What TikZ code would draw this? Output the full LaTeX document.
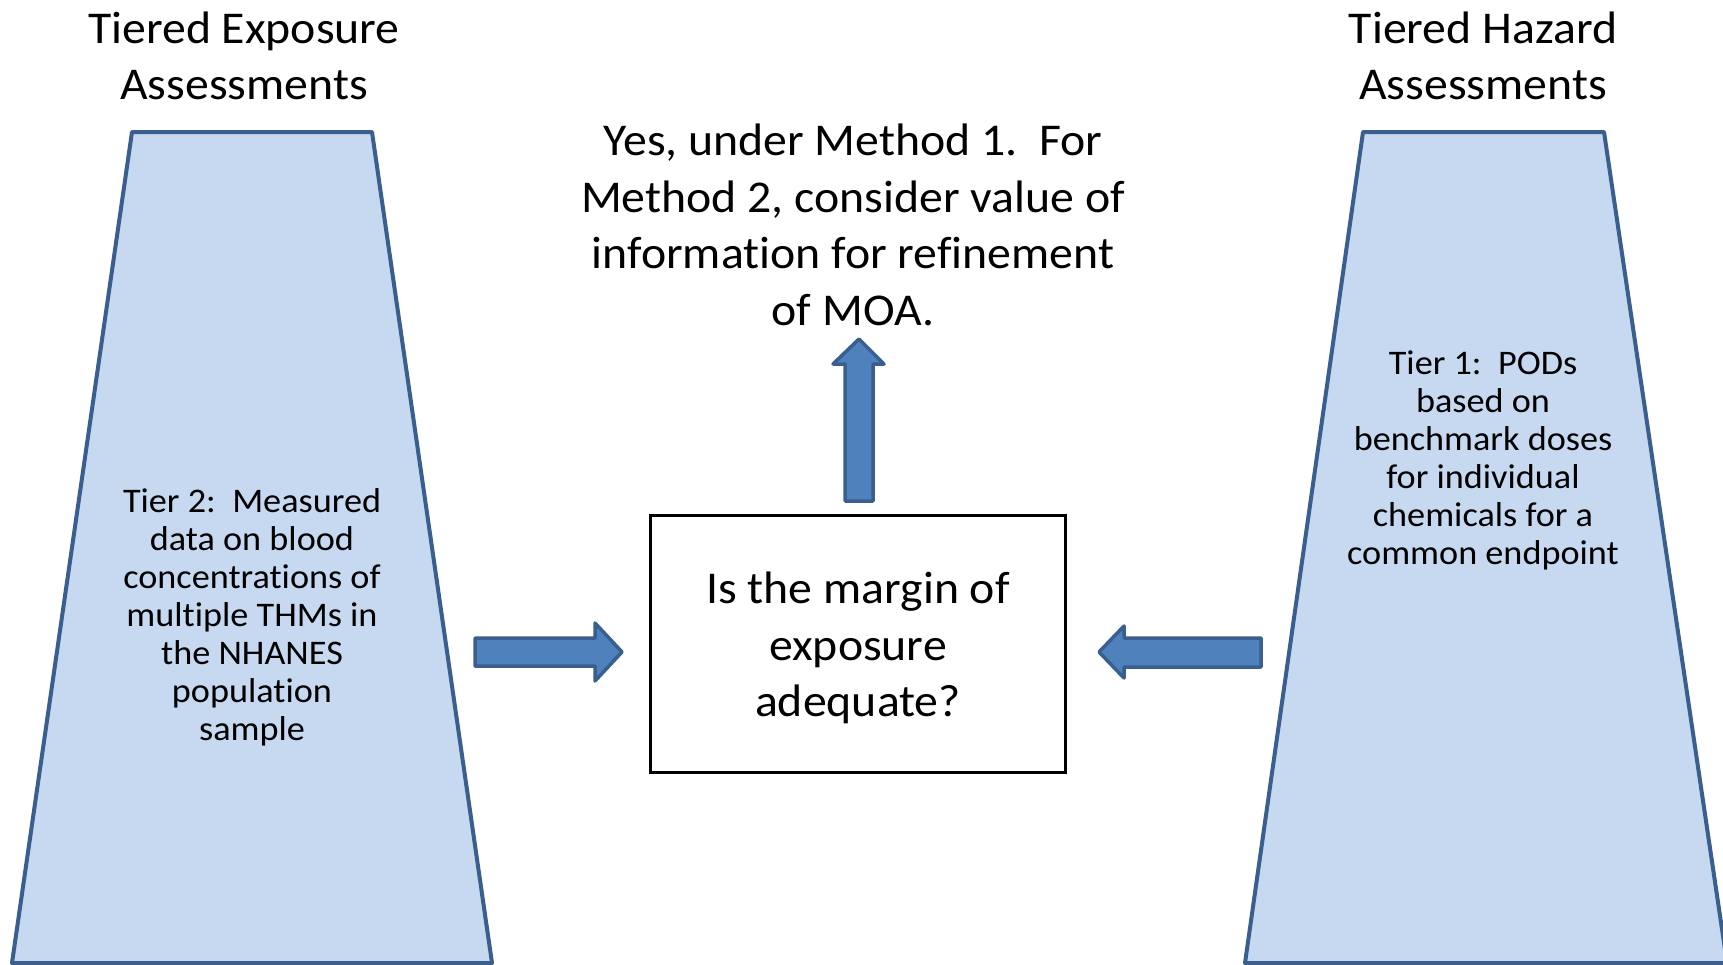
\documentclass[tikz,border=0pt]{standalone}
\usepackage{fontspec}
\setmainfont{Carlito}[FakeStretch=1.05,Ligatures=NoCommon]
\begin{document}
\begin{tikzpicture}[x=1pt,y=-1pt,
  trap/.style={draw=trapline,fill=trapfill,line width=4pt,line join=round},
  barrow/.style={draw=trapline,fill=arrowfill,line width=3.5pt,line join=round},
  big/.style={align=center,font=\fontsize{45.5}{56.5}\selectfont,inner sep=0pt},
  small/.style={align=center,font=\fontsize{34.5}{38}\selectfont,inner sep=0pt}]
\definecolor{trapline}{HTML}{3A5F8E}
\definecolor{trapfill}{HTML}{C6D9F0}
\definecolor{arrowfill}{HTML}{4F81BD}
\useasboundingbox (0,0) rectangle (1723,964);
% trapezoids
\draw[trap] (132,132) -- (372,132) -- (492,963) -- (12,963) -- cycle;
\draw[trap] (1363,132) -- (1604,132) -- (1727,963) -- (1245,963) -- cycle;
% box
\node[draw=black,line width=3.5pt,minimum width=415pt,minimum height=257pt,inner sep=0pt] (q) at (858,644) {};
\node[big] (qt) at (858,648) {Is the margin of\\exposure\\adequate?};
% headers
\node[big] (h1) at (244,56) {Tiered Exposure\\Assessments};
\node[big] (h2) at (1483,56) {Tiered Hazard\\Assessments};
\node[big] (yes) at (853,225) {Yes, under Method 1.\ \ For\\Method 2, consider value of\\information for refinement\\of MOA.};
% tier texts
\node[small] (t2) at (252,617) {Tier 2:\ \ Measured\\data on blood\\concentrations of\\multiple THMs in\\the NHANES\\population\\sample};
\node[small] (t1) at (1483,460) {Tier 1:\ \ PODs\\based on\\benchmark doses\\for individual\\chemicals for a\\common endpoint};
% block arrows
\draw[barrow] (475,638) -- (595,638) -- (595,623) -- (622,652) -- (595,681) -- (595,666) -- (475,666) -- cycle;
\draw[barrow] (1261,638) -- (1124,638) -- (1124,626) -- (1099,652) -- (1124,678) -- (1124,667) -- (1261,667) -- cycle;
\draw[barrow] (845,501) -- (845,364) -- (833,364) -- (859,339) -- (884,364) -- (873,364) -- (873,501) -- cycle;
\end{tikzpicture}
\end{document}
